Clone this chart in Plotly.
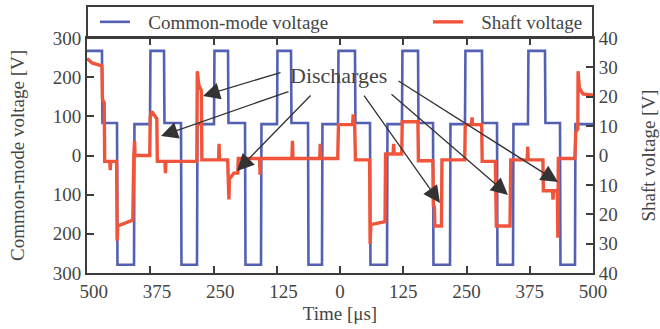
import plotly.graph_objects as go

# ---------------- data ----------------
# Common-mode voltage: switching instants [us] and the level held from each instant [V]
cm_edges = [-500, -470.4, -440.7, -407.1, -375.5, -347.8, -314.2, -282.6, -249.0, -221.3,
            -187.7, -156.1, -124.5, -96.8, -63.2, -35.6, -3.9, 29.6, 59.3, 92.9,
            122.5, 154.2, 183.8, 217.4, 247.0, 280.6, 310.3, 341.9, 371.5, 405.1,
            434.8, 464.4]
cm_levels = [267, 83, -279, 80, 267, 83, -279, 80, 267, 83,
             -279, 80, 267, 83, -279, 80, 267, 83, -279, 80,
             267, 83, -279, 80, 267, 83, -279, 80, 267, 83,
             -279, 80]
cm_end = 500

# Shaft voltage samples [us], [V]
shaft_t = [-500, -490, -471, -470.4, -469.5, -466, -465, -455, -454, -453, -441.5,
           -440.5, -439, -425, -409.5, -407.5, -406, -405, -390, -376,
           -375, -372, -362, -361, -346, -345, -344, -300, -283,
           -282, -279, -274, -273, -240, -239, -238, -222, -221, -219.5, -218.5, -210, -202, -201,
           -159, -158, -157, -95, -94, -93, -40, -39, -38, -4.5,
           -3, 10, 25, 26, 29, 30.5, 58.5,
           59.5, 61, 89, 90, 105, 106, 107, 122,
           123, 140, 154, 155, 183.5,
           184.5, 186.5, 187.5, 200.5, 201.5, 246.5,
           247.5, 260, 261, 262, 280, 281, 307,
           309, 336, 337.5, 370, 371, 372, 401,
           402, 420, 421, 422, 429.5, 430.5, 431.5, 464,
           466, 470, 470.5, 473, 480, 500]
shaft_v = [33, 31.5, 30.5, 30, 19, 18, -2, -2, -5, -2, -2,
           -29, -24, -23, -22, 0, 5, 0, 0, 0,
           13, 15, 12.5, -2, -2, -6, -2, -2, -2,
           28.7, 24, 22, -1.5, -1.5, 4, -1.5, -1.5, -7, -15, -8, -6, -6, -1,
           -1, -6.5, -1, -1, 5, -1, -1, 4, -1, -1,
           10.5, 10.5, 10.5, 14, 10.5, -1.5, -1.5,
           -30, -23.5, -22.5, 0.5, 0.5, 4, 0.5, 0.5,
           11.5, 11.5, 11.5, -1.8, -1.8,
           -17, -17.5, -24, -24, -1.5, -1.5,
           10.5, 10.5, 13, 10.5, 10.5, -2, -2,
           -24, -24, -1.5, -1.5, 3, -1.5, -1.5,
           -12, -12, -15, -12, -12, -28, -1, -1,
           8, 9, 28.7, 23, 21, 20.5]

x_ticks = [-500, -375, -250, -125, 0, 125, 250, 375, 500]
x_tick_text = ["\u2002\u2009500", "\u2002\u2009375", "\u2002\u2009250", "\u2002\u2009125", "0",
               "125", "250", "375", "500"]
y_ticks = [-300, -200, -100, 0, 100, 200, 300]
y_tick_text = ["300", "200", "100", "0", "100", "200", "300"]
y2_ticks = [-40, -30, -20, -10, 0, 10, 20, 30, 40]
y2_tick_text = ["40", "30", "20", "10", "0", "10", "20", "30", "40"]

# discharge arrows: (head time, head CM-axis value, tail time, tail CM-axis value)
arrow_head_t = [-270.8, -353.8, -203.6, 197.6, 332.0, 430.8]
arrow_head_v = [152, 49.8, -39.6, -121, -100.8, -67.7]
arrow_tail_t = [-114.6, -98.8, -55.3, 45.5, 98.8, 112.6]
arrow_tail_v = [213, 164.7, 157, 157, 159.6, 192.7]
label_t, label_v = -2, 205.5

# ---------------- build step trace for common-mode ----------------
cm_t, cm_v = [], []
ramp = 0.9
for i, (t0, lvl) in enumerate(zip(cm_edges, cm_levels)):
    t1 = cm_edges[i + 1] if i + 1 < len(cm_edges) else cm_end
    start = t0 + (ramp if i > 0 else 0)
    cm_t += [start, t1]
    cm_v += [lvl, lvl]

BLUE = "#5461b3"
RED = "#f0553c"
AX = "#3c3c3c"
TXT = "#454545"
FONT = "Liberation Serif, serif"
FS = 19
GAP = "\u2002\u2009"

fig = go.Figure()
fig.add_trace(go.Scatter(x=cm_t, y=cm_v, mode="lines", name=GAP + "Common-mode voltage",
                         line=dict(color=BLUE, width=2.6), legend="legend", showlegend=True))
fig.add_trace(go.Scatter(x=shaft_t, y=shaft_v, mode="lines", name=GAP + "Shaft voltage",
                         line=dict(color=RED, width=3.4), yaxis="y2", legend="legend2",
                         showlegend=True))

for ht, hv, tt, tv in zip(arrow_head_t, arrow_head_v, arrow_tail_t, arrow_tail_v):
    fig.add_annotation(x=ht, y=hv, ax=tt, ay=tv, xref="x", yref="y", axref="x", ayref="y",
                       text="", showarrow=True, arrowhead=2, arrowsize=2.6, arrowwidth=1.3,
                       arrowcolor="#333333", standoff=0)
fig.add_annotation(x=label_t, y=label_v, xref="x", yref="y", text="Discharges",
                   showarrow=False, font=dict(family=FONT, size=22, color=TXT))

H = 235.0
fig.add_shape(type="rect", xref="paper", yref="paper", x0=0, x1=1, y0=1, y1=1 + 32 / H,
              line=dict(color=AX, width=2), fillcolor="rgba(0,0,0,0)", layer="above")

leg_y = 1 + 16 / H
fig.update_layout(
    width=660, height=329,
    margin=dict(l=87, r=67, t=38, b=56, autoexpand=False),
    paper_bgcolor="white", plot_bgcolor="white",
    showlegend=True,
    font=dict(family=FONT, size=FS, color=TXT),
    legend=dict(x=(95 - 87) / 506, y=leg_y, xanchor="left", yanchor="middle",
                bgcolor="rgba(0,0,0,0)", font=dict(family=FONT, size=FS, color=TXT)),
    legend2=dict(x=(428 - 87) / 506, y=leg_y, xanchor="left", yanchor="middle",
                 bgcolor="rgba(0,0,0,0)", font=dict(family=FONT, size=FS, color=TXT)),
    xaxis=dict(range=[-500, 500], tickvals=x_ticks, ticktext=x_tick_text, automargin=False,
               showgrid=False, zeroline=False, showline=True, linecolor=AX, linewidth=2,
               mirror="ticks", ticks="inside", ticklen=7, tickwidth=1.5, tickcolor=AX,
               title=dict(text="Time [μs]", standoff=6, font=dict(family=FONT, size=FS, color=TXT))),
    yaxis=dict(range=[-300, 300], tickvals=y_ticks, ticktext=y_tick_text, automargin=False,
               showgrid=False, zeroline=False, showline=True, linecolor=AX, linewidth=2,
               ticks="inside", ticklen=7, tickwidth=1.5, tickcolor=AX,
               title=dict(text="Common-mode voltage [V]", standoff=23,
                          font=dict(family=FONT, size=FS, color=TXT))),
    yaxis2=dict(range=[-40, 40], tickvals=y2_ticks, ticktext=y2_tick_text, overlaying="y",
                side="right", showgrid=False, zeroline=False, showline=True, linecolor=AX,
                linewidth=2, ticks="inside", ticklen=7, tickwidth=1.5, tickcolor=AX,
                automargin=False,
                title=dict(text="Shaft voltage [V]", standoff=25,
                           font=dict(family=FONT, size=FS, color=TXT))),
)

fig.write_html("out.html")
